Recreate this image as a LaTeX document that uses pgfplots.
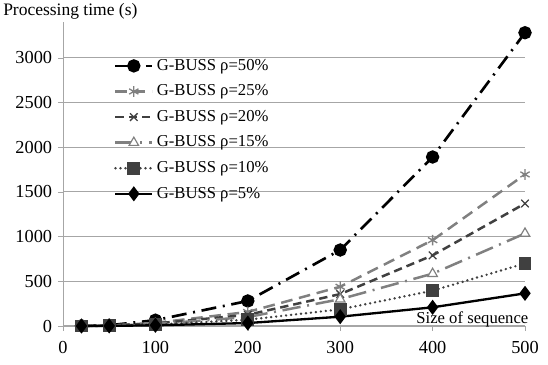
\documentclass[border=0pt]{standalone}
\usepackage{fontspec}
\setmainfont{Liberation Serif}
\usepackage{pgfplots}
\pgfplotsset{compat=1.18}
\usetikzlibrary{plotmarks}
\definecolor{dg}{HTML}{404040}
\definecolor{mg}{HTML}{808080}
\definecolor{gridc}{HTML}{A6A6A6}
\begin{document}
\begin{tikzpicture}
\path[use as bounding box] (-37.8pt,-23.4pt) rectangle (291pt,195.6pt);
\begin{axis}[
  scale only axis, width=277.2pt, height=182.4pt,
  xmin=0, xmax=500, ymin=0, ymax=3400,
  axis x line=bottom, axis y line=left,
  axis line style={gridc, -},
  xtick={0,100,200,300,400,500},
  ytick={0,500,1000,1500,2000,2500,3000},
  ymajorgrids, grid style={gridc, line width=0.6pt},
  tick align=outside, major tick length=3pt,
  tick style={gridc},
  xticklabel={\pgfmathprintnumber[assume math mode=true]{\tick}},
  yticklabel={\pgfmathprintnumber[assume math mode=true,set thousands separator={}]{\tick}},
  ticklabel style={font=\rmfamily\fontsize{11}{13}\selectfont},
  xticklabel style={yshift=-2.5pt},
  legend style={draw=none, fill=none, at={(0.11,0.89)}, anchor=north west,
    inner sep=0pt, font=\fontsize{10}{12}\selectfont, row sep=3.2pt,
    legend cell align=left},
  legend image code/.code={\draw[mark repeat=2,mark phase=2] plot coordinates {(0pt,0pt) (11pt,0pt) (22pt,0pt)};},
  clip=false,
]
\addplot[black, line width=1.6pt, dash pattern=on 9pt off 4pt on 1.2pt off 4pt, mark=*, mark size=3.2pt, mark options={solid}]
 coordinates {(20,2) (50,8) (100,65) (200,280) (300,850) (400,1890) (500,3280)};
\addlegendentry{G-BUSS ρ=50\%}
\addplot[mg, line width=1.5pt, dash pattern=on 7pt off 4pt, mark=asterisk, mark size=3.2pt, mark options={solid, line width=0.8pt}]
 coordinates {(20,1) (50,5) (100,35) (200,157) (300,439) (400,960) (500,1695)};
\addlegendentry{G-BUSS ρ=25\%}
\addplot[dg, line width=1.5pt, dash pattern=on 5pt off 3pt, mark=x, mark size=3.2pt, mark options={solid, line width=0.8pt}]
 coordinates {(20,1) (50,4) (100,28) (200,125) (300,357) (400,790) (500,1370)};
\addlegendentry{G-BUSS ρ=20\%}
\addplot[mg, line width=1.5pt, dash pattern=on 11pt off 4pt on 1.2pt off 4pt, mark=triangle*, mark size=3.3pt, mark options={solid, fill=white, draw=mg, line width=0.7pt}]
 coordinates {(20,1) (50,3) (100,22) (200,100) (300,300) (400,585) (500,1035)};
\addlegendentry{G-BUSS ρ=15\%}
\addplot[dg, line width=1.6pt, line cap=round, dash pattern=on 0pt off 3pt, mark=square*, mark size=3pt, mark options={solid, fill=dg}]
 coordinates {(20,1) (50,2) (100,15) (200,70) (300,186) (400,395) (500,700)};
\addlegendentry{G-BUSS ρ=10\%}
\addplot[black, line width=1.4pt, mark=diamond*, mark size=3.4pt, mark options={solid, fill=black}]
 coordinates {(20,0) (50,1) (100,8) (200,33) (300,104) (400,209) (500,365)};
\addlegendentry{G-BUSS ρ=5\%}
\node[anchor=west, font=\fontsize{10.5}{12}\selectfont, inner sep=0pt] at (rel axis cs:-0.13,1.035) {Processing time (s)};
\node[anchor=base east, font=\fontsize{10}{12}\selectfont, inner sep=0pt] at (rel axis cs:1.008,0.008) {Size of sequence};
\end{axis}
\end{tikzpicture}
\end{document}
